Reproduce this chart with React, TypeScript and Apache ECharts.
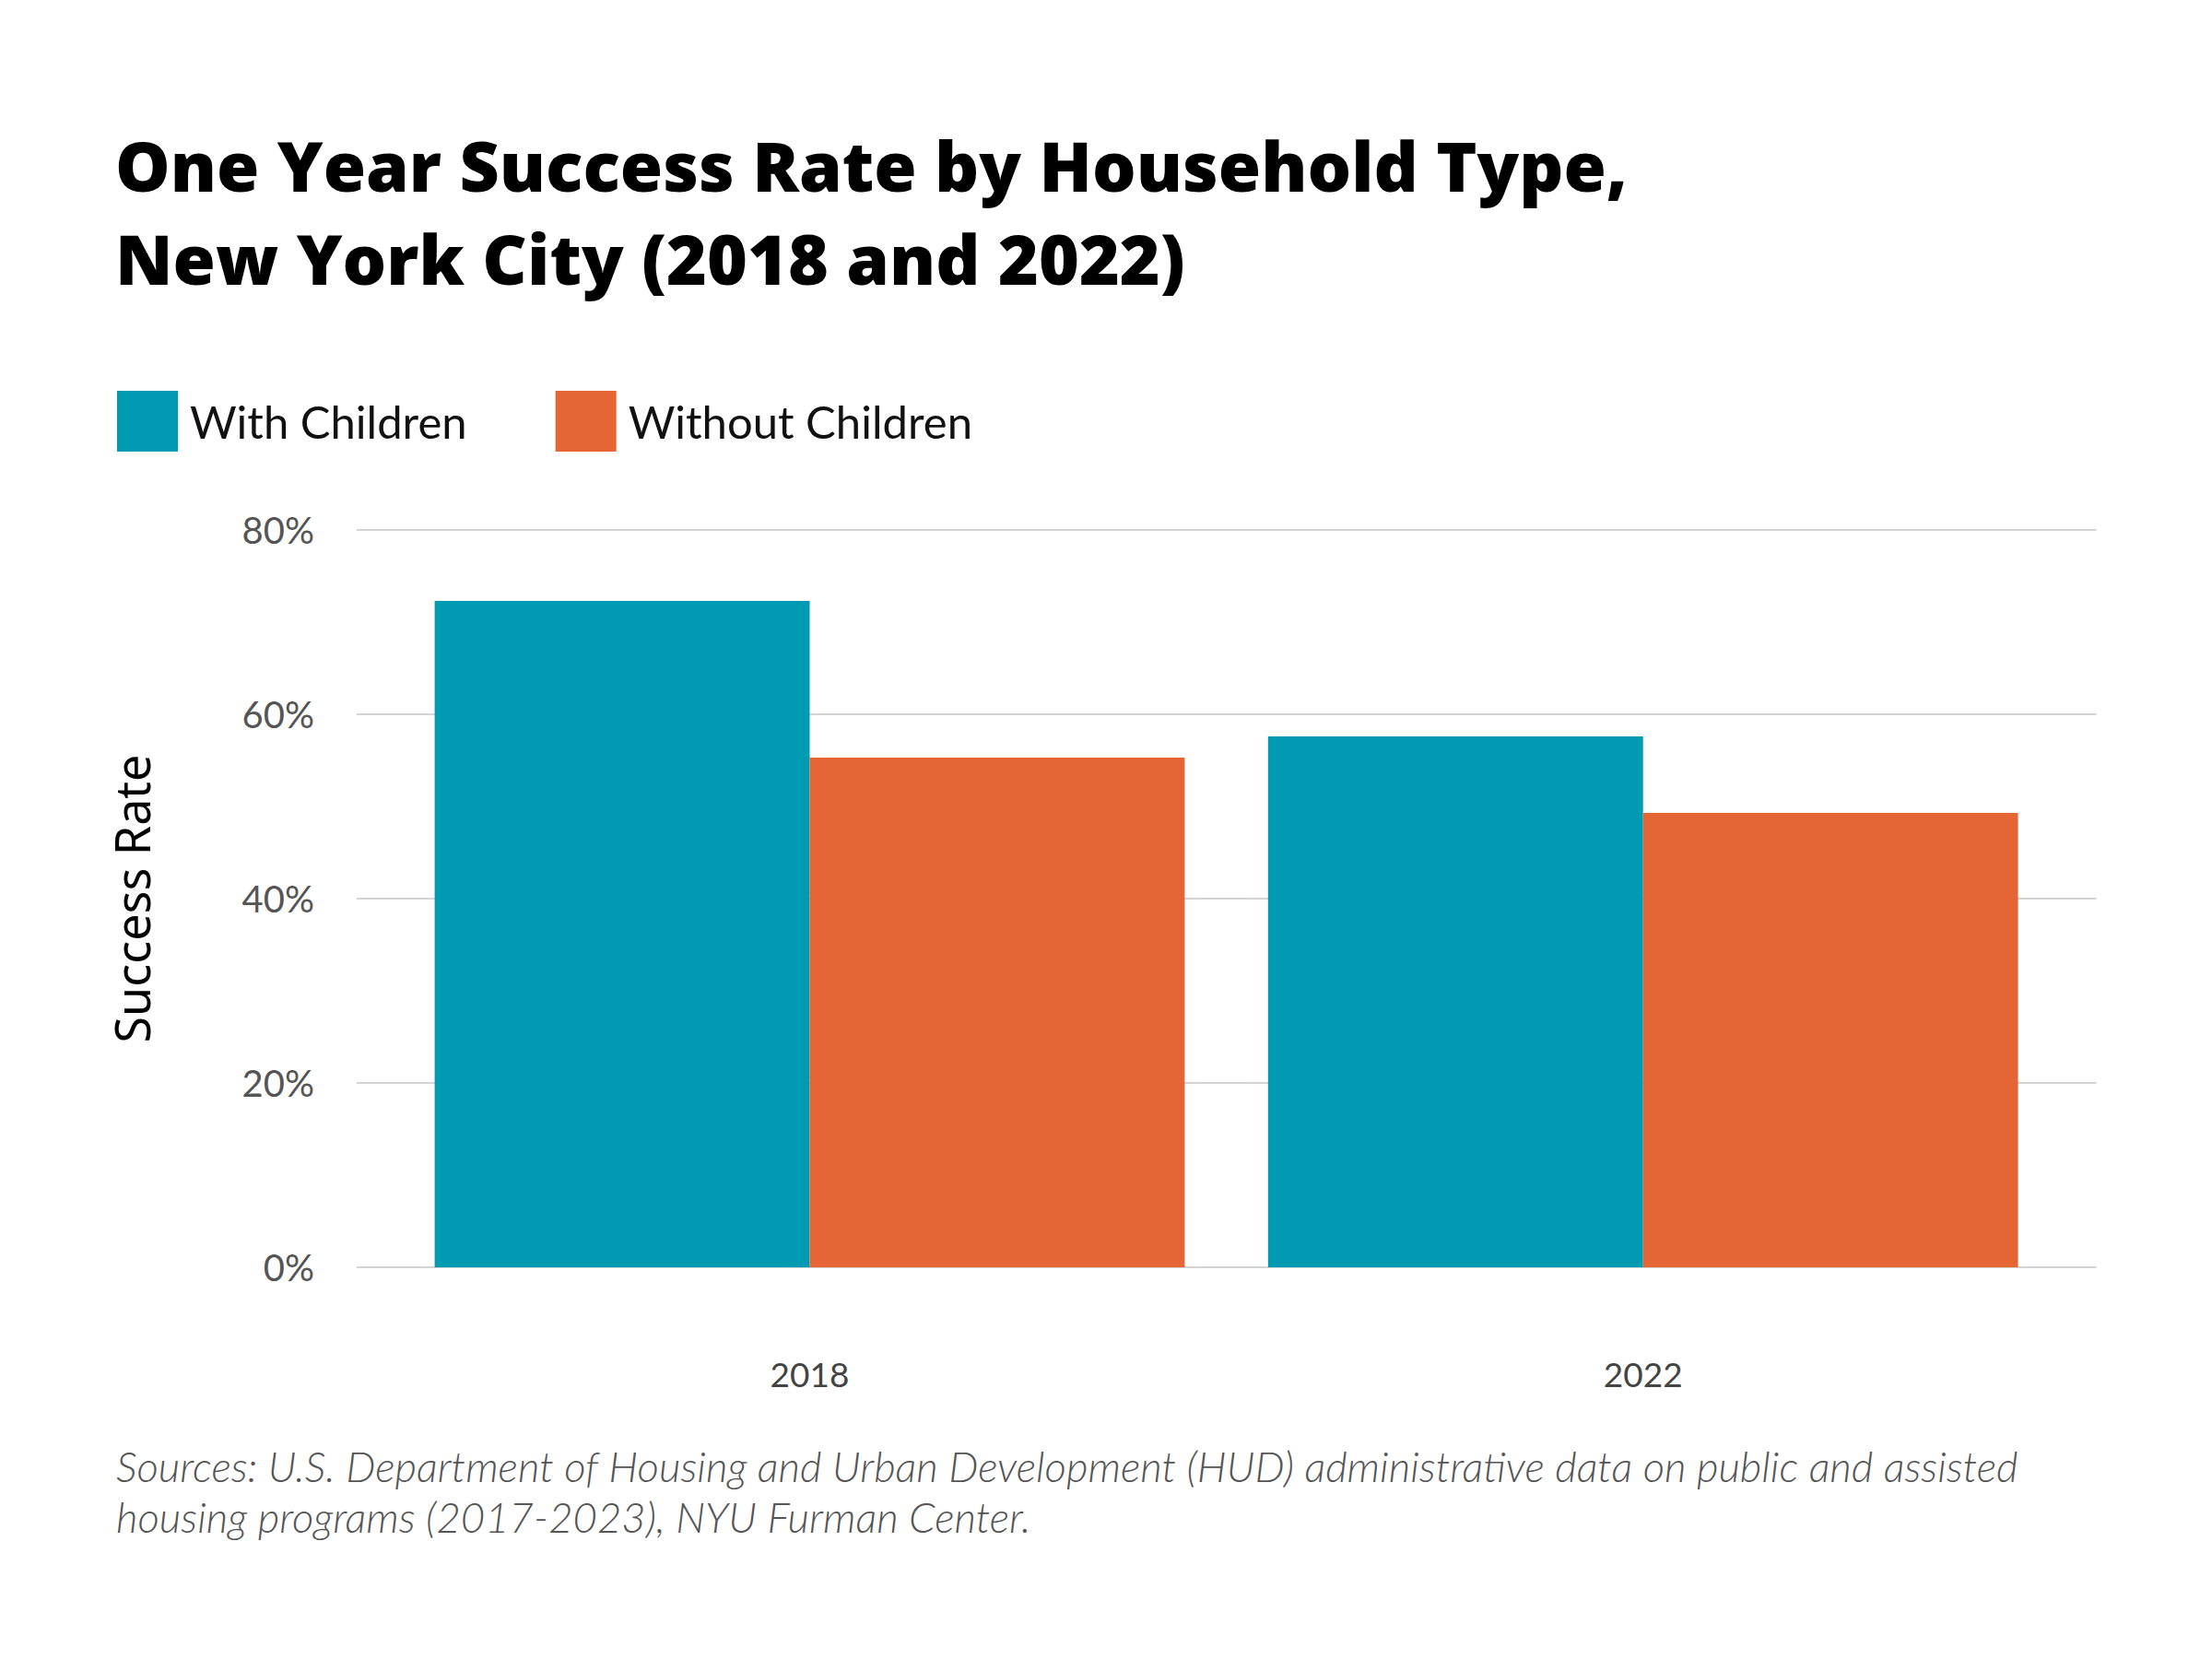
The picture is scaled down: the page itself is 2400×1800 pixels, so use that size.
import React, { useEffect, useRef } from "react";
import * as echarts from "echarts";

const categories = ["2018", "2022"];
const withChildren = [72.3, 57.6];
const withoutChildren = [55.3, 49.3];
const seriesNames = ["With Children", "Without Children"];
const yTicks = { min: 0, max: 80, interval: 20 };
const titleLines = [
  "One Year Success Rate by Household Type,",
  "New York City (2018 and 2022)",
];
const sourceLines = [
  "Sources: U.S. Department of Housing and Urban Development (HUD) administrative data on public and assisted",
  "housing programs (2017-2023), NYU Furman Center.",
];
const yAxisName = "Success Rate";

const TEAL = "#019AB3";
const ORANGE = "#E56535";

export default function App() {
  const ref = useRef<HTMLDivElement>(null);
  useEffect(() => {
    if (!ref.current) return;
    const chart = echarts.init(ref.current, undefined, { renderer: "svg" });
    const gridTop = 575;
    const gridBottom = 1800 - 1375;
    chart.setOption({
      animation: false,
      backgroundColor: "#ffffff",
      title: {
        text: titleLines.join("\n"),
        left: 125,
        top: 128,
        padding: 0,
        textStyle: {
          fontFamily: "Open Sans",
          fontWeight: 800,
          fontSize: 75,
          lineHeight: 101,
          color: "#000000",
        },
      },
      legend: {
        data: seriesNames,
        left: 127,
        top: 424,
        padding: 0,
        icon: "rect",
        itemWidth: 66,
        itemHeight: 66,
        itemGap: 96,
        textStyle: {
          fontFamily: "Lato",
          fontSize: 49,
          color: "#111111",
          padding: [0, 0, 0, 8],
        },
      },
      grid: [
        { left: 387, right: 125.5, top: gridTop, bottom: gridBottom },
        { left: 426.4, right: 165.2, top: gridTop, bottom: gridBottom },
      ],
      xAxis: [
        {
          type: "value",
          gridIndex: 0,
          min: 0,
          max: 1,
          show: false,
        },
        {
          type: "category",
          gridIndex: 1,
          data: categories,
          axisLine: { show: false },
          axisTick: { show: false },
          axisLabel: {
            margin: 97,
            fontFamily: "Lato",
            fontSize: 37,
            color: "#444444",
          },
        },
      ],
      yAxis: [
        {
          type: "value",
          gridIndex: 0,
          min: yTicks.min,
          max: yTicks.max,
          interval: yTicks.interval,
          axisLine: { show: false },
          axisTick: { show: false },
          splitLine: { lineStyle: { color: "#d4d4d4", width: 2 } },
          axisLabel: {
            formatter: "{value}%",
            margin: 46,
            fontFamily: "Lato",
            fontSize: 40,
            color: "#555555",
          },
        },
        {
          type: "value",
          gridIndex: 1,
          min: yTicks.min,
          max: yTicks.max,
          interval: yTicks.interval,
          show: false,
          splitLine: { show: false },
        },
      ],
      series: [
        {
          name: seriesNames[0],
          type: "bar",
          xAxisIndex: 1,
          yAxisIndex: 1,
          data: withChildren,
          barGap: "0%",
          barCategoryGap: "10%",
          itemStyle: { color: TEAL },
        },
        {
          name: seriesNames[1],
          type: "bar",
          xAxisIndex: 1,
          yAxisIndex: 1,
          data: withoutChildren,
          barGap: "0%",
          barCategoryGap: "10%",
          itemStyle: { color: ORANGE },
        },
      ],
      graphic: [
        {
          type: "text",
          x: 142,
          y: 975,
          rotation: Math.PI / 2,
          style: {
            text: yAxisName,
            fontFamily: "Noto Sans",
            fontSize: 52,
            fill: "#000000",
            align: "center",
            verticalAlign: "middle",
          },
        },
        {
          type: "text",
          left: 126,
          top: 1563,
          style: {
            text: sourceLines.join("\n"),
            fontFamily: "Lato",
            fontStyle: "italic",
            fontWeight: 300,
            fontSize: 45.5,
            lineHeight: 55,
            fill: "#555555",
          },
        },
      ],
    });
    return () => chart.dispose();
  }, []);
  return (
    <div
      ref={ref}
      style={{ position: "fixed", left: 0, top: 0, width: 2400, height: 1800 }}
    />
  );
}
